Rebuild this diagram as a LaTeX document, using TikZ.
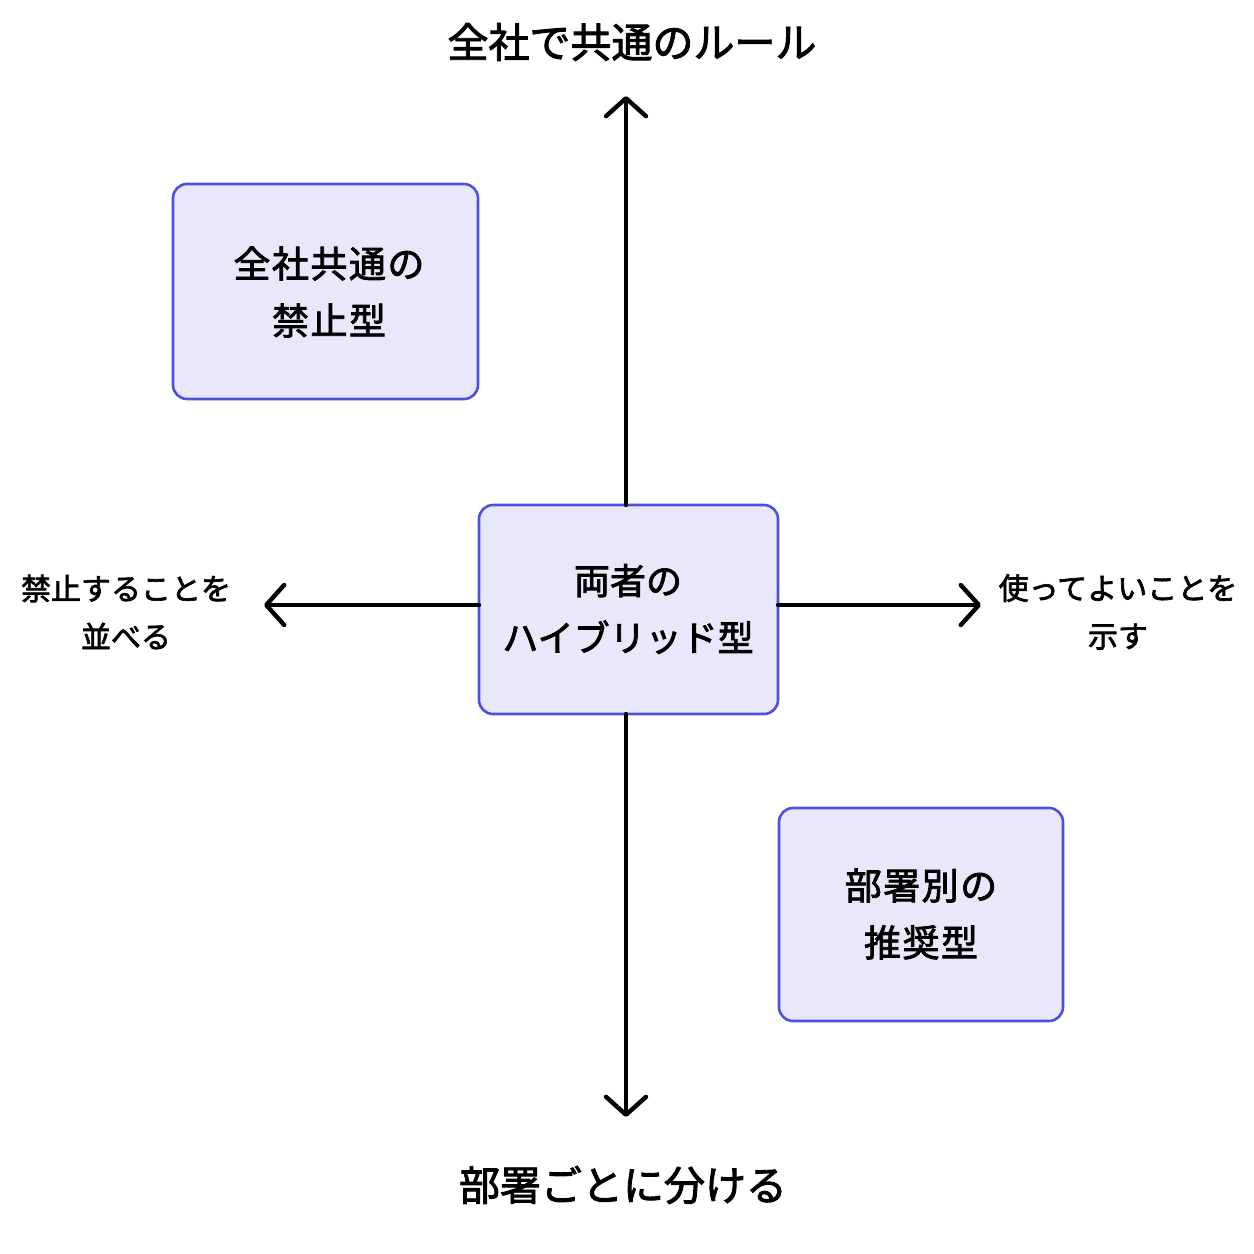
\documentclass[tikz,border=0pt]{standalone}
\usepackage{fontspec}
\setmainfont{Noto Sans CJK JP}[FakeBold=2.2]
\newfontfamily\spacedfont{Noto Sans CJK JP}[FakeBold=2.2,LetterSpace=4]
\usetikzlibrary{arrows.meta}
\definecolor{boxfill}{HTML}{E8E8FA}
\definecolor{boxline}{HTML}{4F4FE0}
\tikzset{
  quadbox/.style={draw=boxline, fill=boxfill, line width=1.3pt, rounded corners=7pt, inner sep=0pt},
  axisline/.style={line width=2.2pt, line cap=round, -{Straight Barb[length=9pt,width=20pt,line width=2.2pt,round]}},
  boxtext/.style={align=center, font=\spacedfont\fontsize{18.5pt}{28.5pt}\selectfont},
  ctrtext/.style={align=center, font=\fontsize{18pt}{28.5pt}\selectfont},
  sidetext/.style={align=center, font=\fontsize{15pt}{24pt}\selectfont},
  endtext/.style={font=\fontsize{20.5pt}{24pt}\selectfont}
}
\begin{document}
\begin{tikzpicture}[x=0.5pt,y=-0.5pt]
\useasboundingbox[fill=white] (0,0) rectangle (1254,1254);
% boxes
\draw[quadbox] (173,184) rectangle (478,399);
\node[boxtext] (tl) at (329,292) {全社共通の\\禁止型};
\draw[quadbox] (479,505) rectangle (778,714);
\node[ctrtext] (ctr) at (628,609) {両者の\\ハイブリッド型};
\draw[quadbox] (779,808) rectangle (1063,1021);
\node[boxtext] (br) at (921,914) {部署別の\\推奨型};
% axis anchors
\coordinate (ctop) at (626,505);
\coordinate (cbot) at (626,714);
\coordinate (cleft) at (479,605);
\coordinate (cright) at (778,605);
\coordinate (up) at (626,96);
\coordinate (down) at (626,1117);
\coordinate (left) at (264,605);
\coordinate (right) at (981,605);
\draw[axisline] (ctop) -- (up);
\draw[axisline] (cbot) -- (down);
\draw[axisline] (cleft) -- (left);
\draw[axisline] (cright) -- (right);
% labels
\node[endtext] (ttl) at (632,42) {全社で共通のルール};
\node[endtext] (btl) at (623,1185) {部署ごとに分ける};
\node[sidetext] (lt) at (126,612) {禁止することを\\並べる};
\node[sidetext] (rt) at (1118,612) {使ってよいことを\\示す};
\end{tikzpicture}
\end{document}
